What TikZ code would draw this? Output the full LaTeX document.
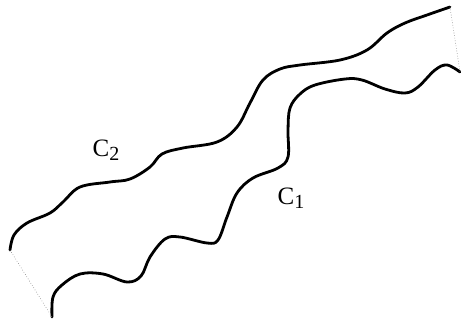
\documentclass[tikz,border=0pt]{standalone}
\usepackage{fontspec}
\setmainfont{Liberation Serif}
\begin{document}
\begin{tikzpicture}[x=1pt,y=-1pt,
  curve/.style={line width=2.8pt,line cap=round,line join=round},
  endline/.style={gray,line width=0.6pt,dotted},
  lbl/.style={font=\fontsize{25}{25}\selectfont,inner sep=0pt}]
\useasboundingbox (0,0) rectangle (461,325);
% C2
\coordinate (c2a) at (10,250);
\coordinate (c2b) at (450,7);
\draw[curve] plot[smooth,tension=0.6] coordinates {(10,250) (14,235) (27,223) (50,213) (63,202) (80,187) (110,182) (130,179) (150,167) (162,154) (183,148) (217,142) (237,127) (250,103) (263,80) (280,69) (300,65) (340,60) (367,50) (387,33) (405,23) (427,15) (450,7)};
% C1
\coordinate (c1a) at (52,317);
\coordinate (c1b) at (460,72);
\draw[curve] plot[smooth,tension=0.6] coordinates {(52,317) (53,297) (62,285) (80,274) (103,274) (127,282) (141,276) (150,257) (165,239) (180,237) (207,243) (218,240) (227,217) (237,193) (253,178) (278,168) (288,157) (288,130) (290,108) (300,94) (315,85) (345,79) (362,80) (385,89) (405,93) (418,87) (435,70) (447,65) (460,72)};
\draw[endline] (c2a) -- (c1a);
\draw[endline] (c2b) -- (c1b);
\node[lbl] (l2) at (106,150) {C\raisebox{-0.3ex}{\fontsize{20}{20}\selectfont 2}};
\node[lbl] (l1) at (291,198) {C\raisebox{-0.3ex}{\fontsize{20}{20}\selectfont 1}};
\end{tikzpicture}
\end{document}
